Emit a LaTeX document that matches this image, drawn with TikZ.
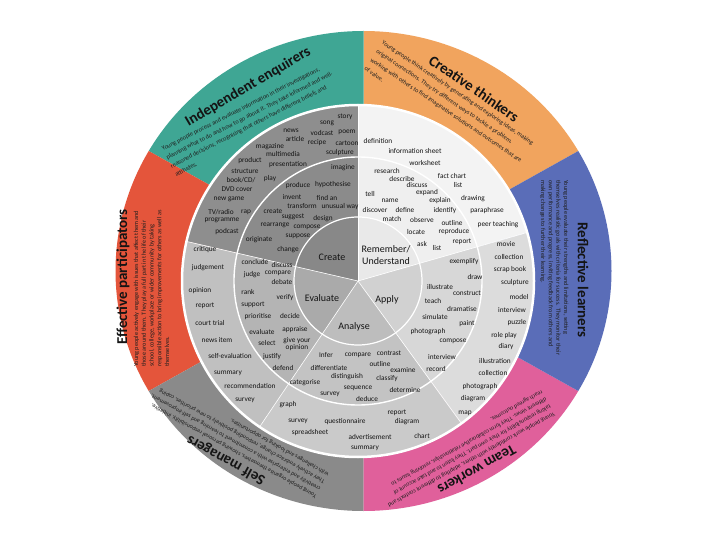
\documentclass[tikz,border=0pt]{standalone}
\usepackage{fontspec}
\setmainfont{Carlito}
\definecolor{cteal}{HTML}{3FA694}
\definecolor{corange}{HTML}{F1A45E}
\definecolor{cblue}{HTML}{5A6DB8}
\definecolor{cpink}{HTML}{E0609B}
\definecolor{cgray}{HTML}{8A8A8A}
\definecolor{cred}{HTML}{E4553B}
\definecolor{crA}{HTML}{8E8E8E}
\definecolor{crB}{HTML}{8B8B8B}
\definecolor{crC}{HTML}{888888}
\definecolor{evA}{HTML}{C0C0C0}
\definecolor{evB}{HTML}{B4B4B4}
\definecolor{evC}{HTML}{AAAAAA}
\definecolor{anA}{HTML}{CACACA}
\definecolor{anB}{HTML}{C3C3C3}
\definecolor{anC}{HTML}{BDBDBD}
\definecolor{apA}{HTML}{DCDCDC}
\definecolor{apB}{HTML}{D7D7D7}
\definecolor{apC}{HTML}{D1D1D1}
\definecolor{reA}{HTML}{F3F3F3}
\definecolor{reB}{HTML}{EFEFEF}
\definecolor{reC}{HTML}{E9E9E9}
\newcommand\osec[3]{\fill[#3] (O) -- ([shift={(#1:248pt and 240pt)}]O) arc[start angle=#1,end angle=#2,x radius=248pt,y radius=240pt] -- cycle;}
\newcommand\bsec[4]{\fill[#4] (C) -- ([shift={(#1:#3)}]C) arc[start angle=#1,end angle=#2,radius=#3] -- cycle;}
\begin{document}
\begin{tikzpicture}[x=1pt,y=-1pt,
  word/.style={font=\fontsize{7.3}{8}\selectfont, inner sep=0pt, text=black!92},
  bloom/.style={font=\fontsize{10}{11.5}\selectfont, inner sep=0pt, text=black!92, align=center},
  ttl/.style={font=\fontsize{15}{18}\selectfont\bfseries, inner sep=0pt, text=black!92},
  dsc/.style={font=\fontsize{6.2}{9.6}\selectfont, inner sep=0pt, align=left, text=black!88}]
\useasboundingbox (0,0) rectangle (720,540);
\fill[white] (0,0) rectangle (720,540);
\coordinate (O) at (363.5,271);
\coordinate (C) at (358,281);
% outer coloured band
\osec{30}{90}{corange}
\osec{90}{150}{cteal}
\osec{150}{210}{cred}
\osec{210}{270}{cgray}
\osec{270}{330}{cpink}
\osec{330}{390}{cblue}
% Bloom disk
\bsec{90}{167}{176pt}{crA} \bsec{167}{236}{176pt}{evA} \bsec{236}{306}{176pt}{anA} \bsec{306}{376}{176pt}{apA} \bsec{16}{90}{176pt}{reA}
\bsec{90}{167}{124pt}{crB} \bsec{167}{236}{124pt}{evB} \bsec{236}{306}{124pt}{anB} \bsec{306}{376}{124pt}{apB} \bsec{16}{90}{124pt}{reB}
\bsec{90}{167}{64pt}{crC} \bsec{167}{236}{64pt}{evC} \bsec{236}{306}{64pt}{anC} \bsec{306}{376}{64pt}{apC} \bsec{16}{90}{64pt}{reC}
\foreach \a in {90,167,236,306,16} \draw[white, line width=0.6pt] (C) -- ([shift={(\a:176pt)}]C);
\draw[white, line width=1.2pt] (C) circle[radius=64pt];
\draw[white, line width=1.4pt] (C) circle[radius=124pt];
\draw[white, line width=2.5pt] (C) circle[radius=176pt];
% titles and descriptions
\node[ttl, rotate=30.6] (t1) at (248,87) {Independent enquirers};
\node[dsc, rotate=27, anchor=north west] (d1) at (161,147) {Young people process and evaluate information in their investigations,\\planning what to do and how to go about it. They take informed and well-\\reasoned decisions, recognising that others have different beliefs and\\attitudes.};
\node[ttl, rotate=-34.4] (t2) at (474,88.5) {Creative thinkers};
\node[dsc, rotate=-34, anchor=north west, font=\fontsize{6.2}{10.5}\selectfont] (d2) at (384,40) {Young people think creatively by generating and exploring ideas, making\\original connections. They try different ways to tackle a problem,\\working with others to find imaginative solutions and outcomes that are\\of value.};
\node[ttl, rotate=-90] (t3) at (583,280) {Reflective learners};
\node[dsc, rotate=-90, anchor=north west, font=\fontsize{6.2}{7.6}\selectfont] (d3) at (568.5,180) {Young people evaluate their strengths and limitations, setting\\themselves realistic goals with criteria for success. They monitor their\\own performance and progress, inviting feedback from others and\\making changes to further their learning.};
\node[ttl, rotate=90] (t4) at (123,277) {Effective participators};
\node[dsc, rotate=90, anchor=north west, font=\fontsize{6.2}{7.8}\selectfont] (d4) at (133.5,367) {Young people actively engage with issues that affect them and\\those around them. They play a full part in the life of their\\school, college, workplace or wider community by taking\\responsible action to bring improvements for others as well as\\themselves.};
\begin{scope}[shift={(477,470)}, rotate=209, transform shape]
\node[ttl] (t5) at (0,0) {Team workers};
\node[dsc, anchor=north, font=\fontsize{6}{8.4}\selectfont] (d5) at (0,9) {Young people work confidently with others, adapting to different contexts and\\taking responsibility for their own part. They listen to and take account of\\different views. They form collaborative relationships, resolving issues to\\reach agreed outcomes.};
\end{scope}
\begin{scope}[shift={(226,460)}, rotate=151, transform shape]
\node[ttl] (t6) at (0,0) {Self managers};
\node[dsc, anchor=north, font=\fontsize{6}{8.4}\selectfont] (d6) at (0,9) {Young people organise themselves, showing personal responsibility, initiative,\\creativity and enterprise with a commitment to learning and self-improvement.\\They actively embrace change, responding positively to new priorities, coping\\with challenges and looking for opportunities.};
\end{scope}
% Bloom labels
\node[bloom] (b1) at (332,257) {Create};
\node[bloom] (b2) at (322,298) {Evaluate};
\node[bloom] (b3) at (354,327) {Analyse};
\node[bloom] (b4) at (387,300) {Apply};
\node[bloom] (b5) at (386,255) {Remember/\\Understand};
% words
\foreach \px/\py/\t [count=\i] in {345/117/story, 327/123/song, 322/133/vodcast, 347/132/poem, 291/131/news, 295/139/article, 317/143/recipe, 347/143/cartoon, 270/147/magazine, 283/154/multimedia, 340/153/sculpture, 250/161/product, 288/165/presentation, 343/168/imagine, 245/171/structure, 270/179/play, 237/189/DVD cover, 229/199/new game, 246/212/rap, 222/220/programme, 227/232/podcast, 298/186/produce, 333/185/hypothesise, 292/197/invent, 327/198/find an, 302/206/transform, 340/207/unusual way, 273/211/create, 293/217/suggest, 323/219/design, 275/225/rearrange, 307/227/compose, 298/236/suppose, 259/240/originate, 288/250/change}
  \node[word] (cr\i) at (\px,\py) {\t};
\node[word] (crx1) at (241,180) {book/CD/};
\node[word] (crx2) at (221,212) {TV/radio};
\foreach \px/\py/\t [count=\i] in {378/141/definition, 415/151/information sheet, 425/163/worksheet, 452/176/fact chart, 458/185/list, 473/199/drawing, 487/211/paraphrase, 498/225/peer teaching, 387/171/research, 402/179/describe, 417/185/discuss, 427/193/expand, 370/194/tell, 390/201/name, 440/201/explain, 375/210/discover, 405/210/define, 445/211/identify, 392/219/match, 422/220/observe, 452/223/outline, 416/232/locate, 454/232/reproduce, 462/242/report, 422/244/ask, 437/248/list}
  \node[word] (re\i) at (\px,\py) {\t};
\foreach \px/\py/\t [count=\i] in {506/244/movie, 509/257/collection, 510/270/scrap book, 515/283/sculpture, 519/297/model, 512/310/interview, 517/323/puzzle, 504/336/role play, 506/347/diary, 495/361/illustration, 493/373/collection, 480/387/photograph, 473/399/diagram, 465/413/map, 464/262/exemplify, 475/277/draw, 440/287/illustrate, 467/293/construct, 433/301/teach, 462/309/dramatise, 435/317/simulate, 467/324/paint, 428/332/photograph, 453/341/compose, 442/357/interview, 436/369/record}
  \node[word] (ap\i) at (\px,\py) {\t};
\foreach \px/\py/\t [count=\i] in {288/405/graph, 298/421/survey, 345/422/questionnaire, 310/433/spreadsheet, 370/437/advertisement, 365/448/summary, 397/413/report, 407/422/diagram, 422/436/chart, 326/355/Infer, 358/355/compare, 389/353/contrast, 329/368/differentiate, 380/364/outline, 403/370/examine, 347/377/distinguish, 387/379/classify, 305/383/categorise, 358/388/sequence, 405/390/determine, 330/394/survey, 367/399/deduce}
  \node[word] (an\i) at (\px,\py) {\t};
\foreach \px/\py/\t [count=\i] in {205/250/critique, 208/268/judgement, 200/291/opinion, 205/306/report, 210/323/court trial, 217/340/news item, 230/356/self-evaluation, 228/373/summary, 250/386/recommendation, 245/400/survey, 255/262/conclude, 282/265/discuss, 252/275/judge, 278/273/compare, 282/282/debate, 248/292/rank, 285/298/verify, 253/305/support, 258/317/prioritise, 290/316/decide, 262/332/evaluate, 295/330/appraise, 267/343/select, 272/357/justify, 283/368/defend}
  \node[word] (ev\i) at (\px,\py) {\t};
\node[word, align=center, font=\fontsize{7.3}{7.8}\selectfont] (evx1) at (297,344) {give your\\opinion};
\end{tikzpicture}
\end{document}
